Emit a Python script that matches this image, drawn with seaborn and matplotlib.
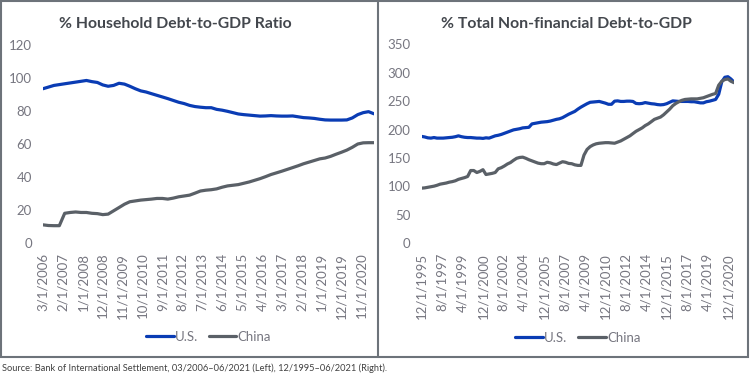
import pandas as pd
import numpy as np
import matplotlib
matplotlib.use('Agg')
import matplotlib.pyplot as plt
import seaborn as sns
from matplotlib.patches import Rectangle
from matplotlib.lines import Line2D

# Household debt-to-GDP, quarterly 03/2006 - 06/2021
hh_us = [93.5, 94.5, 95.5, 96, 96.5, 97, 97.5, 98, 98.5, 97.8,
         97.3, 95.8, 95, 95.5, 96.8, 96.3, 95, 93.5, 92.2, 91.5,
         90.5, 89.5, 88.5, 87.5, 86.4, 85.3, 84.5, 83.4, 82.7, 82.3,
         82, 82, 81, 80.5, 79.8, 79, 78.2, 77.8, 77.5, 77.2,
         76.9, 77, 77.2, 77, 76.9, 76.9, 77, 76.5, 76, 75.8,
         75.5, 75, 74.6, 74.5, 74.5, 74.5, 74.6, 75.8, 77.8, 79,
         79.6, 78.3]
hh_china = [11, 10.6, 10.5, 10.5, 18, 18.5, 18.8, 18.5, 18.5, 18,
            17.8, 17.2, 17.5, 19.5, 21.5, 23.5, 25, 25.5, 26, 26.3,
            26.6, 27, 27, 26.6, 27.2, 28, 28.5, 29, 30.2, 31.5,
            32, 32.3, 32.8, 33.8, 34.6, 35, 35.4, 36.2, 37, 38,
            39, 40.2, 41.5, 42.5, 43.5, 44.6, 45.7, 46.8, 48, 49,
            50, 51, 51.5, 52.5, 53.8, 55, 56.3, 58, 60, 60.7,
            60.8, 60.8]

# Total non-financial debt-to-GDP, quarterly 12/1995 - 06/2021
nf_us = [188, 187, 185.5, 185, 186, 185, 185, 185, 185.5, 186,
         186.5, 187.5, 189, 187.5, 186.5, 186, 186, 185.5, 185, 185,
         184.5, 185.5, 185, 187, 189, 190, 191.5, 193.5, 195.5, 197.5,
         199.5, 200.5, 201.5, 203, 203.5, 204, 210, 211, 212, 213,
         213.5, 214, 215, 216.5, 218, 219, 221, 224, 227, 229.5,
         232, 236, 239.5, 242.5, 245.5, 248, 248.5, 249, 249.5, 248,
         246.5, 244.5, 244.5, 250, 250.5, 249.5, 249.5, 250, 250, 249.5,
         246, 245.5, 246, 247.5, 246.5, 245.5, 245, 244, 243.5, 244,
         245.5, 248, 250.5, 250, 249.5, 249.5, 249.5, 249.5, 249, 249,
         248, 247, 247, 249, 250, 251.5, 253, 262, 284, 292,
         293, 289, 283.5]
nf_china = [97, 97.5, 98.5, 99.5, 100.5, 102, 104, 105, 106, 107.5,
            108.5, 110, 112.5, 114, 115.5, 117.5, 128, 128, 124.5, 126.5,
            129.5, 121, 122, 123, 124.5, 131, 133, 136, 139.5, 142,
            146, 149.5, 151, 151.5, 149.5, 147, 145, 143, 141, 140,
            140, 142.5, 141.5, 139.5, 138.5, 141, 143.5, 142.5, 140.5, 140,
            138, 137, 137, 155, 165, 170, 173, 175, 176, 176.5,
            177, 177, 176.5, 176, 178, 180, 183, 186, 189, 193,
            197, 200, 203, 207, 210, 214, 218, 220, 222, 226,
            231, 236, 242, 246, 249, 251.5, 253, 253.5, 254, 254,
            254, 255, 256, 258, 260, 262, 263.5, 278, 285, 288,
            289, 285, 282.5]

left_ticks = ['3/1/2006', '2/1/2007', '1/1/2008', '12/1/2008', '11/1/2009',
              '10/1/2010', '9/1/2011', '8/1/2012', '7/1/2013', '6/1/2014',
              '5/1/2015', '4/1/2016', '3/1/2017', '2/1/2018', '1/1/2019',
              '12/1/2019', '11/1/2020']
right_ticks = ['12/1/1995', '8/1/1997', '4/1/1999', '12/1/2000', '8/1/2002',
               '4/1/2004', '12/1/2005', '8/1/2007', '4/1/2009', '12/1/2010',
               '8/1/2012', '4/1/2014', '12/1/2015', '8/1/2017', '4/1/2019',
               '12/1/2020']

left_dates = pd.date_range('2006-03-01', '2021-06-01', freq='3MS')
right_dates = pd.date_range('1995-12-01', '2021-06-01', freq='3MS')

df_left = pd.concat([
    pd.DataFrame({'date': left_dates, 'value': hh_us, 'series': 'U.S.'}),
    pd.DataFrame({'date': left_dates, 'value': hh_china, 'series': 'China'}),
])
df_right = pd.concat([
    pd.DataFrame({'date': right_dates, 'value': nf_us, 'series': 'U.S.'}),
    pd.DataFrame({'date': right_dates, 'value': nf_china, 'series': 'China'}),
])

sns.set_style('white')
plt.rcParams['font.family'] = ['Lato', 'DejaVu Sans']

blue = '#0a3cb4'
gray = '#5a6067'
palette = {'U.S.': blue, 'China': gray}
tick_color = '#767680'

W, H = 750, 377
fig = plt.figure(figsize=(7.5, 3.77), dpi=100)

def px(x0, y0, x1, y1):
    return [x0 / W, 1 - y1 / H, (x1 - x0) / W, (y1 - y0) / H]

ax1 = fig.add_axes(px(43, 45, 374, 243))
ax2 = fig.add_axes(px(421.7, 44.3, 734, 243.3))

panels = [
    (ax1, df_left, left_ticks, 120, 20, left_dates),
    (ax2, df_right, right_ticks, 350, 50, right_dates),
]
for ax, df, ticks, ymax, ystep, dates in panels:
    sns.lineplot(data=df, x='date', y='value', hue='series', palette=palette,
                 linewidth=2.3, ax=ax, legend=False)
    ax.set_xlim(dates[0], dates[-1])
    ax.set_ylim(0, ymax)
    ax.set_yticks(np.arange(0, ymax + 1, ystep))
    ax.set_xticks(pd.to_datetime(ticks, format='%m/%d/%Y'))
    ax.set_xticklabels(ticks, rotation=90)
    ax.set_xlabel('')
    ax.set_ylabel('')
    ax.tick_params(axis='both', length=0, labelsize=9.5, colors=tick_color)
    ax.tick_params(axis='y', pad=8)
    ax.tick_params(axis='x', pad=7)
    sns.despine(ax=ax, left=True, bottom=True)
    handles = [Line2D([], [], color=blue, lw=2.3), Line2D([], [], color=gray, lw=2.3)]
    leg = ax.legend(handles, ['U.S.', 'China'], loc='center',
                    bbox_to_anchor=(0.5, (243 - 337) / (243 - 45)),
                    ncol=2, frameon=False, fontsize=9.5, handlelength=2.1,
                    handletextpad=0.1, columnspacing=0.8)
    for t in leg.get_texts():
        t.set_color(tick_color)

title_color = '#43474d'
fig.text(175.5 / W, 1 - 24 / H, '% Household Debt-to-GDP Ratio', ha='center',
         va='center', fontsize=11.3, fontweight='bold', color=title_color)
fig.text(566 / W, 1 - 24 / H, '% Total Non-financial Debt-to-GDP', ha='center',
         va='center', fontsize=11.3, fontweight='bold', color=title_color)

frame_color = '#6d737a'
fig.patches.append(Rectangle((1 / W, 1 - 356.5 / H), 747 / W, 355.5 / H,
                             transform=fig.transFigure, fill=False,
                             edgecolor=frame_color, linewidth=1.5))
fig.add_artist(Line2D([377.5 / W, 377.5 / W], [1 - 356.5 / H, 1 - 1 / H],
                      transform=fig.transFigure, color=frame_color, linewidth=1.5))

fig.text(2 / W, 1 - 368 / H,
         'Source: Bank of International Settlement, 03/2006\u201306/2021 (Left), '
         '12/1995\u201306/2021 (Right).',
         ha='left', va='center', fontsize=6.7, color='#404040')

fig.savefig('out.png', dpi=100)
